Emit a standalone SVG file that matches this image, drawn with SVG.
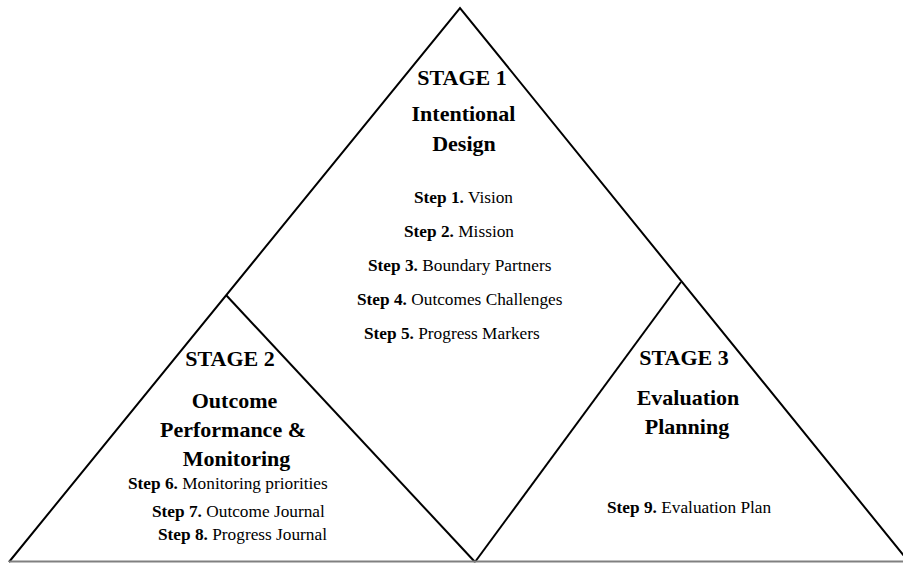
<svg xmlns="http://www.w3.org/2000/svg" width="903" height="563" viewBox="0 0 903 563">
<style>
.ln{stroke:#000;stroke-width:2;fill:none;stroke-linejoin:miter}
.base{stroke:#808080;stroke-width:2;fill:none}
text{font-family:"Liberation Serif","Times New Roman",serif;fill:#000}
.t{font-size:22px;font-weight:bold;text-anchor:middle}
.s{font-size:17.3px}
.b{font-weight:bold}
</style>
<rect width="903" height="563" fill="#fff"/>
<g id="connectors">
<polyline class="ln" points="9,562 460,8 909,562"/>
<line class="ln" x1="226" y1="295" x2="475" y2="562"/>
<line class="ln" x1="681" y1="282" x2="475" y2="562"/>
<line class="base" x1="9" y1="561.5" x2="903" y2="561.5"/>
</g>
<g id="stage1">
<text class="t" x="462" y="85">STAGE 1</text>
<text class="t" x="463.5" y="121">Intentional</text>
<text class="t" x="464" y="151">Design</text>
<text class="s" x="414" y="203"><tspan class="b">Step 1.</tspan> Vision</text>
<text class="s" x="404" y="237"><tspan class="b">Step 2.</tspan> Mission</text>
<text class="s" x="368" y="271"><tspan class="b">Step 3.</tspan> Boundary Partners</text>
<text class="s" x="357" y="305"><tspan class="b">Step 4.</tspan> Outcomes Challenges</text>
<text class="s" x="364" y="339"><tspan class="b">Step 5.</tspan> Progress Markers</text>
</g>
<g id="stage2">
<text class="t" x="230" y="366">STAGE 2</text>
<text class="t" x="234.5" y="408">Outcome</text>
<text class="t" x="233" y="437">Performance &amp;</text>
<text class="t" x="236.5" y="466">Monitoring</text>
<text class="s" x="128" y="489"><tspan class="b">Step 6.</tspan> Monitoring priorities</text>
<text class="s" x="152" y="517"><tspan class="b">Step 7.</tspan> Outcome Journal</text>
<text class="s" x="158" y="540"><tspan class="b">Step 8.</tspan> Progress Journal</text>
</g>
<g id="stage3">
<text class="t" x="684" y="365">STAGE 3</text>
<text class="t" x="688" y="405">Evaluation</text>
<text class="t" x="687" y="434">Planning</text>
<text class="s" x="607" y="513"><tspan class="b">Step 9.</tspan> Evaluation Plan</text>
</g>
</svg>
